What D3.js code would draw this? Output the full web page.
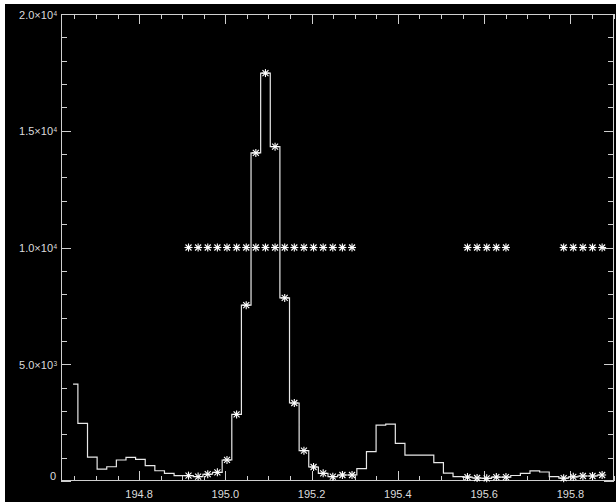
<!DOCTYPE html>
<html>
<head>
<meta charset="utf-8">
<script src="https://cdn.jsdelivr.net/npm/d3@7"></script>
<style>
  html, body { margin: 0; padding: 0; background: #fff; }
  svg { display: block; }
  text { font-family: "Liberation Sans", Arial, sans-serif; fill: #dcdcdc; }
</style>
</head>
<body>
<script>
// spectrum: first wavelength and step (Angstrom), counts per pixel
const wave0 = 194.647;
const dWave = 0.0223;
const counts = [
  4150, 2470, 1020, 510, 610, 900, 1010, 930, 660, 440,
  330, 230, 230, 190, 290, 370, 900, 2850, 7530, 14050,
  17470, 14320, 7840, 3340, 1300, 600, 330, 185, 257, 257,
  527, 1255, 2390, 2435, 1614, 1105, 1105, 1105, 790, 335,
  190, 170, 128, 116, 170, 170, 235, 330, 435, 385,
  184, 122, 178, 214, 214, 257
];
// pixels marked with asterisks (shown on the curve and at the 1e4 row)
const flagged = [
  12, 13, 14, 15, 16, 17, 18, 19, 20, 21, 22, 23, 24, 25, 26, 27, 28, 29,
  41, 42, 43, 44, 45,
  51, 52, 53, 54, 55
];
const flagLevel = 10000;

const xDomain = [194.619, 195.901];
const yDomain = [0, 20000];
const xMajor = [194.8, 195.0, 195.2, 195.4, 195.6, 195.8];
const xMinorStep = 0.05;
const yMajor = [0, 5000, 10000, 15000, 20000];
const yMajorLabels = [["0", ""], ["5.0\u00d710", "3"], ["1.0\u00d710", "4"], ["1.5\u00d710", "4"], ["2.0\u00d710", "4"]];
const yMinorStep = 1000;

const W = 616, H = 502;
const mLeft = 61, mRight = 614, mTop = 14, mBottom = 481;
const fg = "#e8e8e8";

const svg = d3.select("body").append("svg").attr("width", W).attr("height", H);
svg.append("rect").attr("x", 5).attr("y", 4).attr("width", W - 5).attr("height", H - 4).attr("fill", "#000");

const x = d3.scaleLinear().domain(xDomain).range([mLeft, mRight]);
const y = d3.scaleLinear().domain(yDomain).range([mBottom, mTop]);

const data = counts.map((c, i) => ({w: wave0 + i * dWave, c: c}));

// minor tick values
const xMinor = d3.range(Math.ceil(xDomain[0] / xMinorStep) * xMinorStep, xDomain[1] + 1e-9, xMinorStep)
  .filter(v => !xMajor.some(m => Math.abs(m - v) < 1e-6));
const yMinor = d3.range(0, yDomain[1] + 1, yMinorStep).filter(v => v % 5000 !== 0);

const axes = svg.append("g").attr("stroke", "#cfcfcf").attr("stroke-width", 1).attr("shape-rendering", "crispEdges");

// frame
axes.append("rect").attr("x", mLeft + 0.5).attr("y", mTop + 0.5)
  .attr("width", mRight - mLeft - 1).attr("height", mBottom - mTop - 1).attr("fill", "none");

// x ticks bottom and top
function xTicks(vals, len) {
  vals.forEach(v => {
    const px = Math.round(x(v)) + 0.5;
    axes.append("line").attr("x1", px).attr("x2", px).attr("y1", mBottom).attr("y2", mBottom - len);
    axes.append("line").attr("x1", px).attr("x2", px).attr("y1", mTop).attr("y2", mTop + len);
  });
}
xTicks(xMajor, 10);
xTicks(xMinor, 5);

function yTicks(vals, len) {
  vals.forEach(v => {
    const py = Math.round(y(v)) + 0.5;
    axes.append("line").attr("x1", mLeft).attr("x2", mLeft + len).attr("y1", py).attr("y2", py);
    axes.append("line").attr("x1", mRight).attr("x2", mRight - len).attr("y1", py).attr("y2", py);
  });
}
yTicks(yMajor, 10);
yTicks(yMinor, 6);

// x labels
svg.append("g").selectAll("text").data(xMajor).join("text")
  .attr("x", d => x(d)).attr("y", 498)
  .attr("text-anchor", "middle").attr("font-size", 11)
  .text(d => d.toFixed(1));

// y labels with superscript exponents
const yl = svg.append("g").selectAll("g").data(yMajor).join("g");
yl.each(function(d, i) {
  const [base, exp] = yMajorLabels[i];
  const g = d3.select(this);
  const by = y(d) + 4.5;
  if (exp) {
    g.append("text").attr("x", 57).attr("y", by - 3).attr("text-anchor", "end")
      .attr("font-size", 6.5).text(exp);
    g.append("text").attr("x", 53).attr("y", by).attr("text-anchor", "end")
      .attr("font-size", 11).text(base);
  } else {
    g.append("text").attr("x", 56).attr("y", y(d) - 1).attr("text-anchor", "end")
      .attr("font-size", 11).text(base);
  }
});

// histogram-mode spectrum
const line = d3.line().x(d => x(d.w)).y(d => y(d.c)).curve(d3.curveStep);
svg.append("path").datum(data).attr("d", line)
  .attr("fill", "none").attr("stroke", fg).attr("stroke-width", 1.2);

// asterisk symbol
function star(g, cx, cy) {
  const r = 4;
  const s = g.append("g").attr("transform", `translate(${cx},${cy})`)
    .attr("stroke", "#fff").attr("stroke-width", 1.1);
  [[-r, 0, r, 0], [0, -r, 0, r], [-r * 0.75, -r * 0.75, r * 0.75, r * 0.75], [-r * 0.75, r * 0.75, r * 0.75, -r * 0.75]]
    .forEach(p => s.append("line").attr("x1", p[0]).attr("y1", p[1]).attr("x2", p[2]).attr("y2", p[3]));
}
const stars = svg.append("g");
flagged.forEach(i => {
  star(stars, x(data[i].w), y(data[i].c));
  star(stars, x(data[i].w), y(flagLevel));
});
</script>
</body>
</html>
